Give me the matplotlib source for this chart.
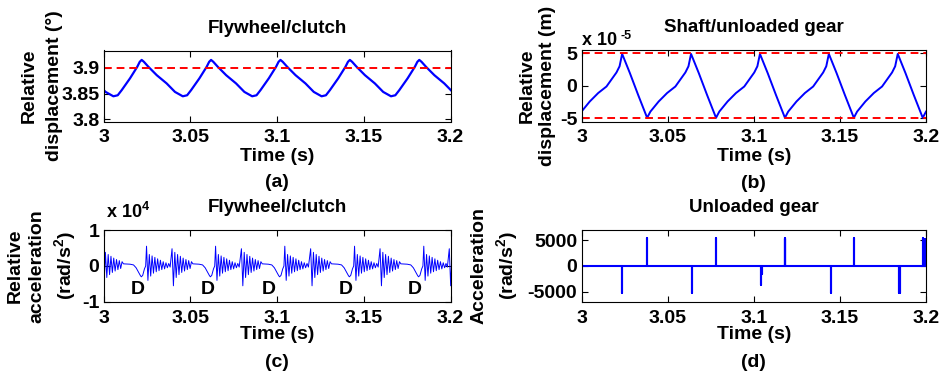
import numpy as np
import matplotlib
matplotlib.use("Agg")
import matplotlib.pyplot as plt

plt.rcParams['font.family'] = ['Liberation Sans', 'DejaVu Sans']
plt.rcParams['font.weight'] = 'bold'
plt.rcParams['axes.labelweight'] = 'bold'
plt.rcParams['mathtext.default'] = 'regular'

time_ticks = [3, 3.05, 3.1, 3.15, 3.2]
time_labels = ['3', '3.05', '3.1', '3.15', '3.2']

# (a) flywheel/clutch relative displacement (deg): one cycle
cycle_a_offset = [0.0, 0.0025, 0.0048, 0.0096, 0.0138, 0.0152, 0.0163, 0.0176, 0.0201, 0.0250, 0.0307, 0.0355]
cycle_a_deg = [3.845, 3.847, 3.857, 3.880, 3.9026, 3.912, 3.9157, 3.912, 3.9026, 3.886, 3.870, 3.8535]
cycle_a_min_times = [2.9657, 3.0057, 3.0457, 3.0857, 3.1257, 3.1657, 3.2057]
limit_a = 3.9

# (b) shaft/unloaded gear relative displacement (x 1e-5 m)
cycle_b_offset = [0.0, 0.0019, 0.0067, 0.0116, 0.0164, 0.0222, 0.0240, 0.0255, 0.0300, 0.0348]
cycle_b_1e5 = [-4.9, -3.95, -2.4, -1.1, -0.1, 2.05, 3.0, 4.9, 1.95, -1.4]
cycle_b_min_times = [2.9581, 2.9981, 3.0381, 3.0781, 3.1181, 3.1581, 3.1981, 3.2381]
backlash_b = 5.0

# (c) flywheel/clutch relative acceleration (x 1e4 rad/s^2)
burst_step = 0.0008
burst_a_1e4 = [0.55, -0.40, 0.32, -0.28, 0.28, -0.20, 0.24, -0.16, 0.20, -0.13, 0.16, -0.10,
               0.12, -0.08, 0.09, -0.05, 0.07, -0.03]
burst_b_1e4 = [0.48, -0.55, 0.38, -0.32, 0.32, -0.24, 0.27, -0.18, 0.22, -0.14, 0.18, -0.10,
               0.15, -0.07, 0.12, 0.06]
burst_a_times = [3.0248, 3.0646, 3.1045, 3.1447, 3.1846]
burst_b_times = [2.9995, 3.0395, 3.0795, 3.1194, 3.1594, 3.1993]
dip_offset = [-0.0065, -0.0045, -0.003, -0.0015, -0.0005, 0.0, 0.0008, 0.0018, 0.0025]
dip_1e4 = [0.05, 0.03, -0.05, -0.18, -0.27, -0.30, -0.26, -0.08, 0.0]
dip_times = [3.0218, 3.0616, 3.1015, 3.1417, 3.1816]
d_label_times = [3.0195, 3.0599, 3.0951, 3.1398, 3.1792]
d_label_level = -0.64

# (d) unloaded gear acceleration spikes (rad/s^2)
spike_times = [3.0238, 3.0378, 3.0643, 3.0778, 3.1041, 3.1049, 3.1181, 3.1184,
               3.1446, 3.1581, 3.1845, 3.1848, 3.1982, 3.1995]
spike_values = [-5300, 5400, -5300, 5400, -3600, -1500, 5400, 5300,
                -5300, 5400, -5300, -5200, 5400, 5200]

# build series
t_a = np.concatenate([m + np.array(cycle_a_offset) for m in cycle_a_min_times])
v_a = np.tile(cycle_a_deg, len(cycle_a_min_times))
t_b = np.concatenate([m + np.array(cycle_b_offset) for m in cycle_b_min_times])
v_b = np.tile(cycle_b_1e5, len(cycle_b_min_times))

pts_c = []
for s in burst_a_times:
    pts_c += [(s + i * burst_step, v) for i, v in enumerate(burst_a_1e4)]
for s in burst_b_times:
    pts_c += [(s + i * burst_step, v) for i, v in enumerate(burst_b_1e4)]
for s in dip_times:
    pts_c += [(s + o, v) for o, v in zip(dip_offset, dip_1e4)]
pts_c.sort()
t_c = [p[0] for p in pts_c]
v_c = [p[1] for p in pts_c]

t_d, v_d = [3.0], [0.0]
for s, v in zip(spike_times, spike_values):
    t_d += [s, s, s]
    v_d += [0.0, v, 0.0]
t_d.append(3.2)
v_d.append(0.0)

W, H = 941, 377
fig = plt.figure(figsize=(W / 100, H / 100), dpi=100)


def box(l, r, t, b):
    return [l / W, (H - b) / H, (r - l) / W, (b - t) / H]


ax_a = fig.add_axes(box(103.5, 450.5, 50.5, 121.5))
ax_b = fig.add_axes(box(581.5, 926, 50, 121.7))
ax_c = fig.add_axes(box(103.5, 450.5, 230, 302))
ax_d = fig.add_axes(box(581.5, 926, 230, 302))

dash = dict(color='#ff0000', ls='--', lw=1.4, dashes=(4, 2.5))

ax_a.plot(t_a, v_a, color='#0000ff', lw=1.6)
ax_a.axhline(limit_a, **dash)
ax_a.set_ylim(3.796, 3.934)
ax_a.set_yticks([3.8, 3.85, 3.9])
ax_a.set_yticklabels(['3.8', '3.85', '3.9'])

ax_b.plot(t_b, v_b, color='#0000ff', lw=1.4)
ax_b.axhline(backlash_b, **dash)
ax_b.axhline(-backlash_b, **dash)
ax_b.set_ylim(-5.5, 5.5)
ax_b.set_yticks([-5, 0, 5])
ax_b.set_yticklabels(['-5', '0', '5'])
ax_b.text(0.0015, 1.07, 'x 10', transform=ax_b.transAxes, fontsize=13,
          ha='left', va='baseline')
ax_b.text(0.113, 1.16, '-5', transform=ax_b.transAxes, fontsize=9,
          ha='left', va='baseline')

ax_c.plot(t_c, v_c, color='#0000ff', lw=0.7)
ax_c.set_ylim(-1, 1)
ax_c.set_yticks([-1, 0, 1])
ax_c.set_yticklabels(['-1', '0', '1'])
ax_c.text(0.007, 1.167, r'x 10$^{4}$', transform=ax_c.transAxes, fontsize=13,
          ha='left', va='baseline')
for tx in d_label_times:
    ax_c.text(tx, d_label_level, 'D', fontsize=14, ha='center', va='center')

ax_d.plot(t_d, v_d, color='#0000ff', lw=1.5)
ax_d.set_ylim(-7000, 7000)
ax_d.set_yticks([-5000, 0, 5000])
ax_d.set_yticklabels(['-5000', '0', '5000'])

titles = ['Flywheel/clutch', 'Shaft/unloaded gear', 'Flywheel/clutch', 'Unloaded gear']
ylabels = ['Relative\ndisplacement (\u00b0)', 'Relative\ndisplacement (m)',
           'Relative\nacceleration\n(rad/s$^2$)', 'Acceleration\n(rad/s$^2$)']
ylab_x = [-0.1167, -0.074, -0.0735, -0.1785]
ylab_ls = [1.67, 1.28, 1.36, 1.36]
letters = ['(a)', '(b)', '(c)', '(d)']
title_y = [1.303, 1.307, 1.306, 1.306]
xlab_y = [-0.373, -0.373, -0.34, -0.34]
letter_y = [-0.866, -0.866, -0.84, -0.84]

for i, ax in enumerate([ax_a, ax_b, ax_c, ax_d]):
    ax.set_xlim(3, 3.2)
    ax.set_xticks(time_ticks)
    ax.set_xticklabels(time_labels)
    ax.tick_params(direction='in', top=True, right=True, length=4, width=0.8,
                   labelsize=14)
    ax.tick_params(axis='x', pad=5.5)
    ax.tick_params(axis='y', pad=3)
    for lbl in ax.get_xticklabels() + ax.get_yticklabels():
        lbl.set_fontweight('bold')
    for sp in ax.spines.values():
        sp.set_linewidth(0.8)
    ax.text(0.5, title_y[i], titles[i], transform=ax.transAxes, fontsize=13.5,
            ha='center', va='center')
    ax.set_xlabel('Time (s)', fontsize=14)
    ax.xaxis.set_label_coords(0.5, xlab_y[i])
    ax.set_ylabel(ylabels[i], fontsize=14, linespacing=ylab_ls[i])
    ax.yaxis.set_label_coords(ylab_x[i], 0.5)
    ax.text(0.5, letter_y[i], letters[i], transform=ax.transAxes, fontsize=14,
            ha='center', va='center')

fig.savefig('out.png', dpi=100, facecolor='white')
